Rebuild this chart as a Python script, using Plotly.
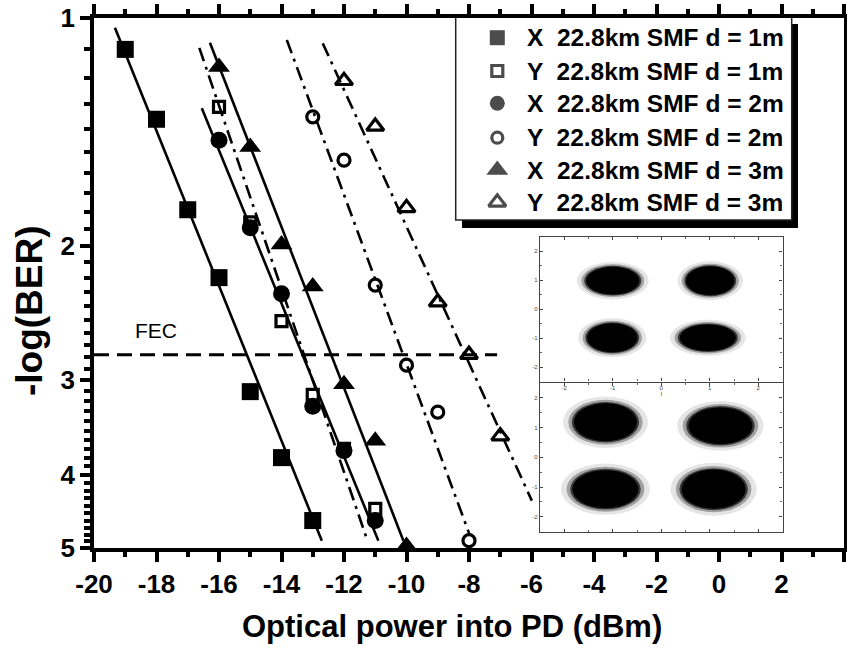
import numpy as np
import plotly.graph_objects as go

# ---------------- data ----------------
power_x1m = [-19, -18, -17, -16, -15, -14, -13]
ber_x1m = [1.10, 1.36, 1.79, 2.20, 3.11, 3.80, 4.60]

power_y1m = [-16, -15, -14, -13, -12, -11]
ber_y1m = [1.31, 1.86, 2.51, 3.14, 3.70, 4.44]

power_x2m = [-16, -15, -14, -13, -12, -11]
ber_x2m = [1.45, 1.89, 2.31, 3.25, 3.72, 4.60]

power_y2m = [-13, -12, -11, -10, -9, -8]
ber_y2m = [1.35, 1.54, 2.25, 2.87, 3.31, 4.89]

power_x3m = [-16, -15, -14, -13, -12, -11, -10]
ber_x3m = [1.16, 1.48, 1.99, 2.26, 3.04, 3.61, 4.97]

power_y3m = [-12, -11, -10, -9, -8, -7]
ber_y3m = [1.21, 1.39, 1.78, 2.37, 2.78, 3.56]

# fitted lines (end points)
fit_power_x1m = [-19.33, -12.71]
fit_ber_x1m = [1.03, 4.89]
fit_power_y1m = [-16.63, -11.25]
fit_ber_y1m = [1.095, 4.89]
fit_power_x2m = [-16.55, -10.90]
fit_ber_x2m = [1.315, 4.89]
fit_power_x3m = [-16.29, -10.10]
fit_ber_x3m = [1.078, 4.89]
fit_power_y2m = [-13.83, -7.99]
fit_ber_y2m = [1.069, 4.79]
fit_power_y3m = [-12.68, -5.99]
fit_ber_y3m = [1.080, 4.33]

fec_power = [-20, -7.1]
fec_level = [2.78, 2.78]
fec_label = "FEC"

legend_labels = [
    "X  22.8km SMF d = 1m",
    "Y  22.8km SMF d = 1m",
    "X  22.8km SMF d = 2m",
    "Y  22.8km SMF d = 2m",
    "X  22.8km SMF d = 3m",
    "Y  22.8km SMF d = 3m",
]

x_tickvals = [-20, -18, -16, -14, -12, -10, -8, -6, -4, -2, 0, 2, 4]
x_ticktext = ["-20", "-18", "-16", "-14", "-12", "-10", "-8", "-6", "-4", "-2", "0", "2", "4"]
x_minorvals = [-19, -17, -15, -13, -11, -9, -7, -5, -3, -1, 1, 3]
y_tickvals = [1, 2, 3, 4, 5]
y_ticktext = ["1", "2", "3", "4", "5"]
y_minorvals = [1.1, 1.2, 1.3, 1.4, 1.5, 1.6, 1.7, 1.8, 1.9,
               2.1, 2.2, 2.3, 2.4, 2.5, 2.6, 2.7, 2.8, 2.9,
               3.1, 3.2, 3.3, 3.4, 3.5, 3.6, 3.7, 3.8, 3.9,
               4.1, 4.2, 4.3, 4.4, 4.5, 4.6, 4.7, 4.8, 4.9]

# inset constellations (centres and spreads of the four clusters)
top_i = [-1.0, 1.01, -1.01, 0.96]
top_q = [0.98, 0.98, -0.99, -0.99]
top_si = [0.55, 0.50, 0.52, 0.58]
top_sq = [0.48, 0.50, 0.50, 0.46]

bot_i = [-1.15, 1.22, -1.15, 1.08]
bot_q = [1.18, 1.06, -1.07, -1.07]
bot_si = [0.65, 0.66, 0.68, 0.66]
bot_sq = [0.64, 0.62, 0.64, 0.66]

inset_ticks = [-2, -1, 0, 1, 2]
inset_ticktext = ["-2", "-1", "0", "1", "2"]

# ---------------- figure ----------------
FONT = "Arial, 'Liberation Sans', sans-serif"
W, H = 847, 651
ML, MR, MT, MB = 94, 3, 18, 103
PW, PH = W - ML - MR, H - MT - MB


def px_x(p):
    return (p - ML) / PW


def px_y(p):
    return (H - MB - p) / PH


fig = go.Figure()

dashdot = "14px,6px,3px,6px"
line_specs = [
    (fit_power_x1m, fit_ber_x1m, "solid"),
    (fit_power_y1m, fit_ber_y1m, dashdot),
    (fit_power_x2m, fit_ber_x2m, "solid"),
    (fit_power_y2m, fit_ber_y2m, dashdot),
    (fit_power_x3m, fit_ber_x3m, "solid"),
    (fit_power_y3m, fit_ber_y3m, dashdot),
]
for xs, ys, dash in line_specs:
    fig.add_trace(go.Scatter(x=xs, y=ys, mode="lines",
                             line=dict(color="black", width=2.6, dash=dash),
                             showlegend=False, hoverinfo="skip", cliponaxis=False))

fig.add_trace(go.Scatter(x=fec_power, y=fec_level, mode="lines",
                         line=dict(color="black", width=3, dash="15px,8px"),
                         showlegend=False, hoverinfo="skip"))

marker_specs = [
    (power_x1m, ber_x1m, "square", 17, 0),
    (power_y1m, ber_y1m, "square-open", 11, 3.2),
    (power_x2m, ber_x2m, "circle", 17, 0),
    (power_y2m, ber_y2m, "circle-open", 12, 3.2),
    (power_x3m, ber_x3m, "triangle-up", 19, 0),
    (power_y3m, ber_y3m, "triangle-up-open", 15, 3.2),
]
for (xs, ys, sym, size, lw), name in zip(marker_specs, legend_labels):
    fig.add_trace(go.Scatter(x=xs, y=ys, mode="markers", name=name,
                             marker=dict(symbol=sym, size=size, color="black",
                                         line=dict(color="black", width=lw)),
                             showlegend=False, cliponaxis=False))

# ---------- manual legend ----------
LX0, LX1, LY0, LY1 = 455.7, 791.7, 17.0, 220.0
row_y = [37.7, 71.0, 103.3, 137.7, 170.0, 202.3]
legend_marker_sizes = [15, 11, 15, 11, 19, 15]
fig.add_trace(go.Scatter(
    x=[497.3] * 6, y=row_y, mode="markers", xaxis="x3", yaxis="y3",
    marker=dict(symbol=[m[2] for m in marker_specs], size=legend_marker_sizes,
                color="black", line=dict(color="black", width=[0, 3.2, 0, 3.2, 0, 3.2])),
    showlegend=False, hoverinfo="skip", cliponaxis=False))
for yv, lab in zip(row_y, legend_labels):
    fig.add_annotation(x=525, y=yv, xref="x3", yref="y3", text=lab, showarrow=False,
                       xanchor="left", yanchor="middle",
                       font=dict(family=FONT, size=24.5, color="black", weight="bold"))

shapes = []
# shadow
shapes.append(dict(type="rect", xref="paper", yref="paper", layer="below",
                   x0=px_x(462), x1=px_x(798), y0=px_y(228), y1=px_y(24),
                   fillcolor="black", line=dict(width=0)))
shapes.append(dict(type="rect", xref="paper", yref="paper", layer="below",
                   x0=px_x(LX0), x1=px_x(LX1), y0=px_y(LY1), y1=px_y(LY0),
                   fillcolor="white", line=dict(color="#222", width=1.5)))

# ---------- inset constellation blobs ----------
def add_blobs(ci, cq, si, sq, xr, yr):
    for x, y, a, b in zip(ci, cq, si, sq):
        for scale, col in [(1.35, "rgba(0,0,0,0.10)"), (1.18, "rgba(0,0,0,0.30)"),
                           (1.07, "rgba(0,0,0,0.65)"), (1.0, "black")]:
            shapes.append(dict(type="circle", xref=xr, yref=yr, layer="above",
                               x0=x - a * scale, x1=x + a * scale,
                               y0=y - b * scale, y1=y + b * scale,
                               fillcolor=col, line=dict(width=0)))


add_blobs(top_i, top_q, top_si, top_sq, "x2", "y2")
add_blobs(bot_i, bot_q, bot_si, bot_sq, "x4", "y4")

# FEC label
fig.add_annotation(x=-18.03, y=float(np.log10(2.58)), xref="x", yref="y", text=fec_label,
                   showarrow=False, font=dict(family=FONT, size=21, color="black"))

# axis titles
fig.add_annotation(x=px_x(452), y=px_y(626), xref="paper", yref="paper",
                   text="Optical power into PD (dBm)", showarrow=False,
                   xanchor="center", yanchor="middle",
                   font=dict(family=FONT, size=31, color="black", weight="bold"))
fig.add_annotation(x=px_x(29), y=px_y(311), xref="paper", yref="paper",
                   text="-log(BER)", showarrow=False, textangle=-90,
                   xanchor="center", yanchor="middle",
                   font=dict(family=FONT, size=37, color="black", weight="bold"))

fig.update_layout(shapes=shapes)

tickfont = dict(family=FONT, size=26, color="black", weight="bold")
fig.update_layout(
    width=W, height=H,
    margin=dict(l=ML, r=MR, t=MT, b=MB),
    paper_bgcolor="white", plot_bgcolor="rgba(0,0,0,0)",
    showlegend=False,
    xaxis=dict(range=[-20, 4], tickmode="array", tickvals=x_tickvals, ticktext=x_ticktext,
               ticks="outside", ticklen=10, tickwidth=3.5, tickcolor="black",
               showline=True, linewidth=3.5, linecolor="black", mirror="ticks",
               showgrid=False, zeroline=False, tickfont=tickfont, automargin=False,
               minor=dict(tickmode="array", tickvals=x_minorvals, ticks="outside",
                          ticklen=5, tickwidth=3.5, tickcolor="black")),
    yaxis=dict(type="log", range=[np.log10(5), 0], tickmode="array",
               tickvals=y_tickvals, ticktext=y_ticktext,
               ticks="outside", ticklen=10, tickwidth=3.5, tickcolor="black",
               showline=True, linewidth=3.5, linecolor="black", mirror="ticks",
               showgrid=False, zeroline=False, tickfont=tickfont, automargin=False,
               minor=dict(tickmode="array", tickvals=y_minorvals, ticks="outside",
                          ticklen=6, tickwidth=3.5, tickcolor="black")),
    xaxis3=dict(domain=[px_x(LX0), px_x(LX1)], range=[LX0, LX1], anchor="y3",
                visible=False, fixedrange=True),
    yaxis3=dict(domain=[px_y(LY1), min(1.0, px_y(LY0))], range=[LY1, 18.0], anchor="x3",
                visible=False, fixedrange=True),
)

inset_tickfont = dict(family=FONT, size=6, color="#444")
inset_axis = dict(range=[-2.5, 2.5], tickmode="array", tickvals=inset_ticks,
                  ticktext=inset_ticktext, ticks="inside", ticklen=3, tickwidth=1,
                  tickcolor="#444", showline=True, linewidth=1.2, linecolor="#444",
                  mirror="ticks", showgrid=False, zeroline=False, automargin=False,
                  tickfont=inset_tickfont,
                  minor=dict(dtick=0.5, ticks="inside", ticklen=2, tickcolor="#666"))
IX0, IX1 = px_x(540), px_x(782.5)
fig.update_layout(
    xaxis2=dict(inset_axis, domain=[IX0, IX1], anchor="y2", showticklabels=True,
                title=dict(text="I", font=dict(family=FONT, size=6, color="#444"), standoff=0)),
    yaxis2=dict(inset_axis, domain=[px_y(381.5), px_y(236.7)], anchor="x2"),
    xaxis4=dict(inset_axis, domain=[IX0, IX1], anchor="y4", showticklabels=False),
    yaxis4=dict(inset_axis, domain=[px_y(531.7), px_y(383)], anchor="x4"),
)
# empty traces so the inset axes are drawn
fig.add_trace(go.Scatter(x=[None], y=[None], xaxis="x2", yaxis="y2", showlegend=False))
fig.add_trace(go.Scatter(x=[None], y=[None], xaxis="x4", yaxis="y4", showlegend=False))

fig.write_html("out.html", config={"displayModeBar": False},
               post_script="document.body.style.margin='0';document.body.style.overflow='hidden';")
